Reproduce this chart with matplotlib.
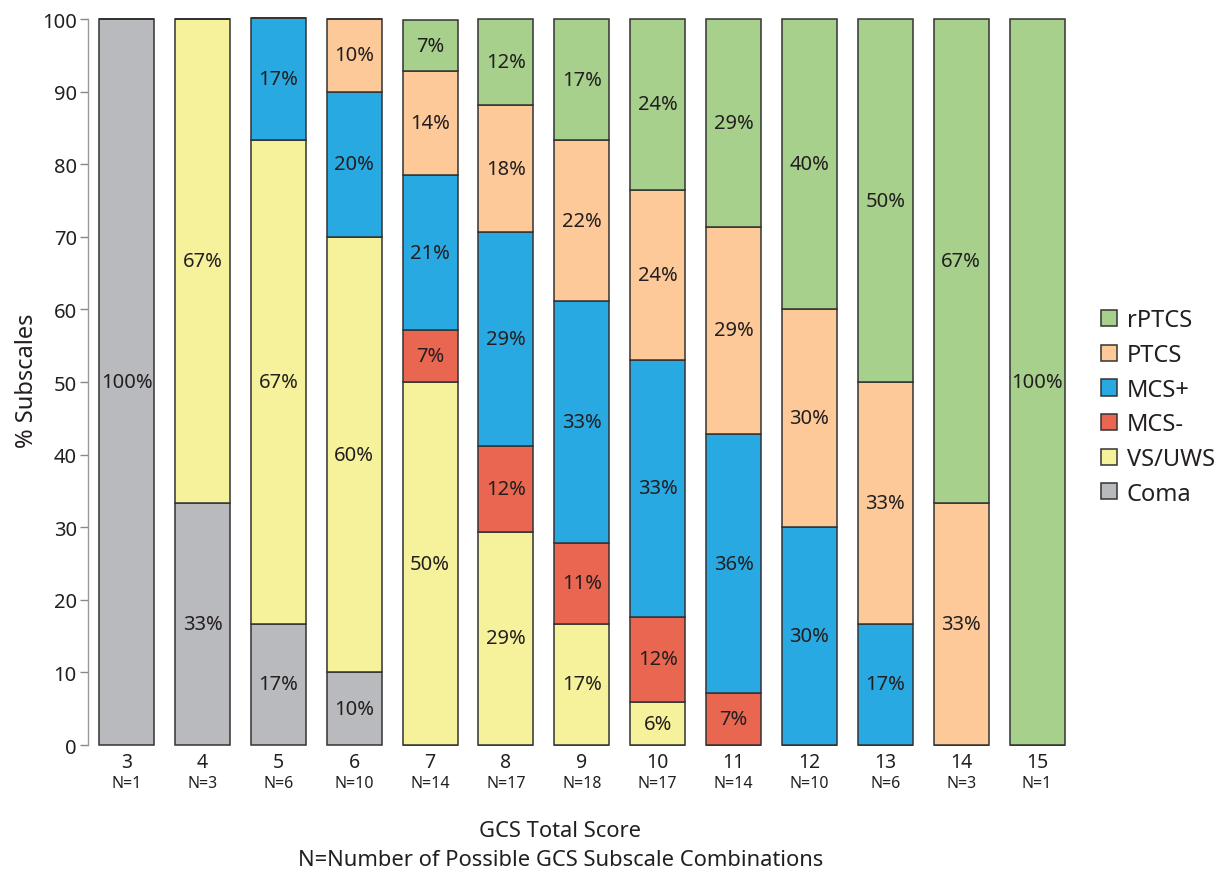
import matplotlib
matplotlib.use("Agg")
import matplotlib.pyplot as plt
from matplotlib.patches import Patch
import matplotlib.transforms as mtransforms

plt.rcParams['font.family'] = ['Noto Sans', 'DejaVu Sans']

scores = [3, 4, 5, 6, 7, 8, 9, 10, 11, 12, 13, 14, 15]
n_combos = [1, 3, 6, 10, 14, 17, 18, 17, 14, 10, 6, 3, 1]

categories = ["Coma", "VS/UWS", "MCS-", "MCS+", "PTCS", "rPTCS"]
colors = ["#b9babe", "#f6f29c", "#e96650", "#29a9e1", "#fdc998", "#a6d08b"]

coma   = [100, 33.3, 16.7, 10, 0, 0, 0, 0, 0, 0, 0, 0, 0]
vs_uws = [0, 66.7, 66.7, 60, 50, 29.4, 16.7, 5.9, 0, 0, 0, 0, 0]
mcs_m  = [0, 0, 0, 0, 7.1, 11.8, 11.1, 11.8, 7.1, 0, 0, 0, 0]
mcs_p  = [0, 0, 16.7, 20, 21.4, 29.4, 33.3, 35.3, 35.7, 30, 16.7, 0, 0]
ptcs   = [0, 0, 0, 10, 14.3, 17.6, 22.2, 23.5, 28.6, 30, 33.3, 33.3, 0]
rptcs  = [0, 0, 0, 0, 7.1, 11.8, 16.7, 23.5, 28.6, 40, 50, 66.7, 100]

lab_coma   = ["100%", "33%", "17%", "10%", "", "", "", "", "", "", "", "", ""]
lab_vs     = ["", "67%", "67%", "60%", "50%", "29%", "17%", "6%", "", "", "", "", ""]
lab_mcs_m  = ["", "", "", "", "7%", "12%", "11%", "12%", "7%", "", "", "", ""]
lab_mcs_p  = ["", "", "17%", "20%", "21%", "29%", "33%", "33%", "36%", "30%", "17%", "", ""]
lab_ptcs   = ["", "", "", "10%", "14%", "18%", "22%", "24%", "29%", "30%", "33%", "33%", ""]
lab_rptcs  = ["", "", "", "", "7%", "12%", "17%", "24%", "29%", "40%", "50%", "67%", "100%"]

series = [coma, vs_uws, mcs_m, mcs_p, ptcs, rptcs]
labels = [lab_coma, lab_vs, lab_mcs_m, lab_mcs_p, lab_ptcs, lab_rptcs]

txt = "#231f20"
fig = plt.figure(figsize=(12.27, 8.78), dpi=100)
ax = fig.add_axes([0.0717, 0.1503, 0.8050, 0.8269])

bottom = [0.0] * len(scores)
for vals, col, labs, name in zip(series, colors, labels, categories):
    bars = ax.bar(scores, vals, width=0.725, bottom=bottom, color=col,
                  edgecolor="#333333", linewidth=1.1, label=name, zorder=2)
    for b in bars:
        b.set_clip_on(False)
    for i, (v, lb) in enumerate(zip(vals, labs)):
        if v > 0 and lb:
            ax.text(scores[i], bottom[i] + v / 2, lb, ha="center", va="center",
                    fontsize=14.5, color=txt, zorder=3)
    bottom = [b + v for b, v in zip(bottom, vals)]

ax.set_xlim(2.49, 15.51)
ax.set_ylim(0, 100)
ax.set_yticks(range(0, 101, 10))
ax.tick_params(axis="y", length=6, width=1, color="#888888", labelsize=14.5,
               labelcolor=txt, pad=2)
for s in ["top", "right", "bottom"]:
    ax.spines[s].set_visible(False)
ax.spines["left"].set_color("#999999")
ax.spines["left"].set_linewidth(1)
ax.set_xticks([])

trans = mtransforms.blended_transform_factory(ax.transData, fig.transFigure)
for s, n in zip(scores, n_combos):
    ax.text(s, 1 - 763 / 878, str(s), ha="center", va="center", fontsize=14,
            color=txt, transform=trans)
    ax.text(s, 1 - 784 / 878, f"N={n}", ha="center", va="center", fontsize=11.5,
            color=txt, transform=trans)

fig.text(0.4565, 1 - 832 / 878, "GCS Total Score", ha="center", va="center",
         fontsize=15.8, color=txt)
fig.text(0.4565, 1 - 861 / 878, "N=Number of Possible GCS Subscale Combinations",
         ha="center", va="center", fontsize=15.8, color=txt)
fig.text(27 / 1227, 1 - 381 / 878, "% Subscales", rotation=90, ha="center",
         va="center", fontsize=17, color=txt)

handles = [Patch(facecolor=c, edgecolor="#333333", linewidth=1.1, label=n)
           for c, n in zip(colors, categories)][::-1]
leg = fig.legend(handles=handles, loc="center left",
                 bbox_to_anchor=(1101 / 1227, 1 - 408 / 878), frameon=False,
                 fontsize=17, handlelength=0.68, handleheight=0.68,
                 handletextpad=0.42, labelspacing=0.45, borderaxespad=0,
                 borderpad=0)
for t in leg.get_texts():
    t.set_color(txt)

fig.savefig("out.png", dpi=100)
